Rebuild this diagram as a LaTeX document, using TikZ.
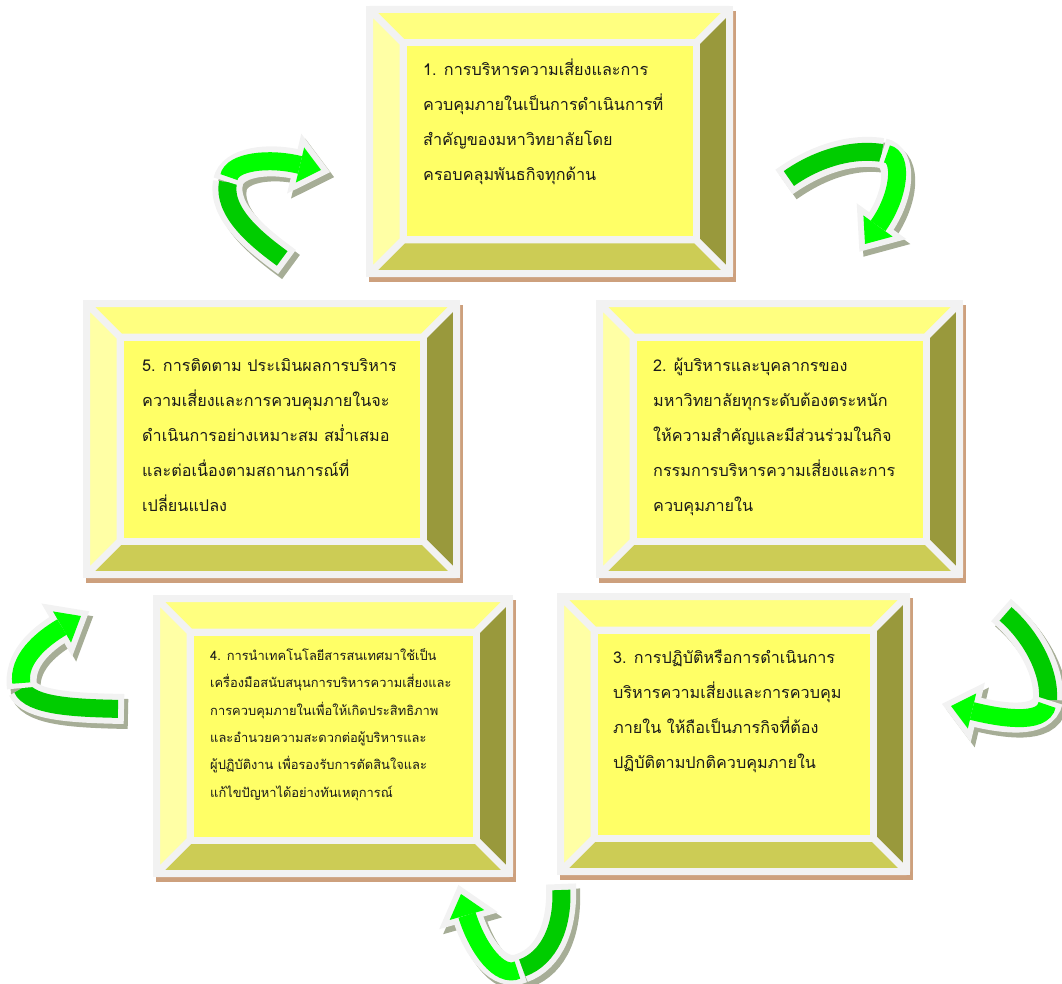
\documentclass[tikz,border=0pt]{standalone}
\usepackage{fontspec}
\usepackage{tikz}
\usetikzlibrary{calc}
\newfontfamily\thaifont[Script=Thai]{Loma}

\definecolor{framegray}{RGB}{242,242,242}
\definecolor{bevtop}{RGB}{255,255,128}
\definecolor{bevleft}{RGB}{255,255,165}
\definecolor{bevright}{RGB}{153,153,60}
\definecolor{bevbottom}{RGB}{204,204,85}
\definecolor{panelyellow}{RGB}{255,255,102}
\definecolor{boxshade}{RGB}{205,160,125}
\definecolor{darkgreen}{RGB}{0,204,0}
\definecolor{lightgreen}{RGB}{0,255,0}
\definecolor{arrowshade}{RGB}{166,173,150}
\definecolor{textdark}{RGB}{26,26,26}

\tikzset{bevel/.style = {draw=framegray, line width=7pt, line join=round},
         steptext/.style = {anchor=base west, align=left, inner sep=0pt, text=textdark,
                            font=\thaifont\fontsize{16.2}{35}\selectfont},
         smalltext/.style = {steptext, font=\thaifont\fontsize{12.9}{27.3}\selectfont},
         rim/.style = {draw=framegray, line width=30pt},
         shade rim/.style = {draw=arrowshade, line width=30pt},
         shade head/.style = {fill=arrowshade, draw=arrowshade, line width=12pt, line join=miter},
         head rim/.style = {fill=framegray, draw=framegray, line width=12pt, line join=miter},
         dark band/.style = {draw=darkgreen, line width=18pt, shorten <=6pt},
         light band/.style = {draw=lightgreen, line width=18pt, shorten <=5pt}}

% #1 tail, #2 #3 controls, #4 junction, #5 #6 controls, #7 head base, #8 tip
\newcommand{\cyclearrow}[8]{%
  \coordinate (head-l) at ($(#7)!18pt!90:(#8)$);
  \coordinate (head-r) at ($(#7)!18pt!-90:(#8)$);
  \coordinate (head-t) at (#8);
  \begin{scope}[shift={(4, 5)}]
    \draw [shade rim] (#1) .. controls (#2) and (#3) .. (#4) .. controls (#5) and (#6) .. (#7);
  \end{scope}
  \filldraw [shade head] ([shift={(4, 5)}]head-l) -- ([shift={(4, 5)}]head-t)
                         -- ([shift={(4, 5)}]head-r) -- cycle;
  \draw [rim] (#1) .. controls (#2) and (#3) .. (#4);
  \draw [dark band] (#1) .. controls (#2) and (#3) .. (#4);
  \draw [rim] (#4) .. controls (#5) and (#6) .. (#7);
  \filldraw [head rim] (head-l) -- (head-t) -- (head-r) -- cycle;
  \draw [light band] (#4) .. controls (#5) and (#6) .. (#7);
  \fill [lightgreen] (head-l) -- (head-t) -- (head-r) -- cycle;
}

\begin{document}
\begin{tikzpicture}[x=1pt, y=-1pt]
    \useasboundingbox (0, 0) rectangle (1062, 984);

    \foreach \xa/\ya/\xb/\yb in {366/6/733/277, 596/300/963/578, 557/593/910/875,
                                 153/595/513/877, 83/300/460/578} {
      \fill [boxshade] (\xa+2.5, \ya+5) rectangle (\xb+2.5, \yb+5);
      \fill [framegray] (\xa, \ya) rectangle (\xb, \yb);
      \coordinate (onw) at (\xa+3.5, \ya+3.5);
      \coordinate (one) at (\xb-3.5, \ya+3.5);
      \coordinate (ose) at (\xb-3.5, \yb-3.5);
      \coordinate (osw) at (\xa+3.5, \yb-3.5);
      \coordinate (inw) at (\xa+37, \ya+37);
      \coordinate (ine) at (\xb-37, \ya+37);
      \coordinate (ise) at (\xb-37, \yb-37);
      \coordinate (isw) at (\xa+37, \yb-37);
      \filldraw [bevel, fill=bevtop] (onw) -- (one) -- (ine) -- (inw) -- cycle;
      \filldraw [bevel, fill=bevright] (one) -- (ose) -- (ise) -- (ine) -- cycle;
      \filldraw [bevel, fill=bevbottom] (ose) -- (osw) -- (isw) -- (ise) -- cycle;
      \filldraw [bevel, fill=bevleft] (osw) -- (onw) -- (inw) -- (isw) -- cycle;
      \filldraw [bevel, fill=panelyellow] (inw) rectangle (ise);
    }

    % base anchor sits on the last line
    \node [steptext] (policy) at (423, 181)
      {1. การบริหารความเสี่ยงและการ\\ควบคุมภายในเป็นการดำเนินการที่\\สำคัญของมหาวิทยาลัยโดย\\ครอบคลุมพันธกิจทุกด้าน};
    \node [steptext] (staff) at (653, 511)
      {2. ผู้บริหารและบุคลากรของ\\มหาวิทยาลัยทุกระดับต้องตระหนัก\\ให้ความสำคัญและมีส่วนร่วมในกิจ\\กรรมการบริหารความเสี่ยงและการ\\ควบคุมภายใน};
    \node [steptext] (practice) at (613, 768)
      {3. การปฏิบัติหรือการดำเนินการ\\บริหารความเสี่ยงและการควบคุม\\ภายใน ให้ถือเป็นภารกิจที่ต้อง\\ปฏิบัติตามปกติควบคุมภายใน};
    \node [smalltext] (tech) at (210, 797)
      {4. การนำเทคโนโลยีสารสนเทศมาใช้เป็น\\เครื่องมือสนับสนุนการบริหารความเสี่ยงและ\\การควบคุมภายในเพื่อให้เกิดประสิทธิภาพ\\และอำนวยความสะดวกต่อผู้บริหารและ\\ผู้ปฏิบัติงาน เพื่อรองรับการตัดสินใจและ\\แก้ไขปัญหาได้อย่างทันเหตุการณ์};
    \node [steptext] (monitor) at (142, 511)
      {5. การติดตาม ประเมินผลการบริหาร\\ความเสี่ยงและการควบคุมภายในจะ\\ดำเนินการอย่างเหมาะสม สม่ำเสมอ\\และต่อเนื่องตามสถานการณ์ที่\\เปลี่ยนแปลง};

    \cyclearrow{784, 182}{815, 160}{850, 148}{882, 153}{903, 157}{900, 195}{878, 226}{865, 244}
    \cyclearrow{1001, 610}{1030, 635}{1050, 670}{1048, 700}{1043, 725}{1000, 718}{972, 711}{951, 706}
    \cyclearrow{561, 884}{563, 925}{550, 958}{522, 968}{500, 978}{478, 950}{467, 915}{461, 894}
    \cyclearrow{124, 709}{75, 708}{30, 706}{22, 688}{18, 660}{40, 640}{62, 627}{81, 616}
    \cyclearrow{287, 262}{257, 240}{222, 212}{228, 182}{232, 162}{268, 157}{300, 165}{321, 170}
\end{tikzpicture}
\end{document}
